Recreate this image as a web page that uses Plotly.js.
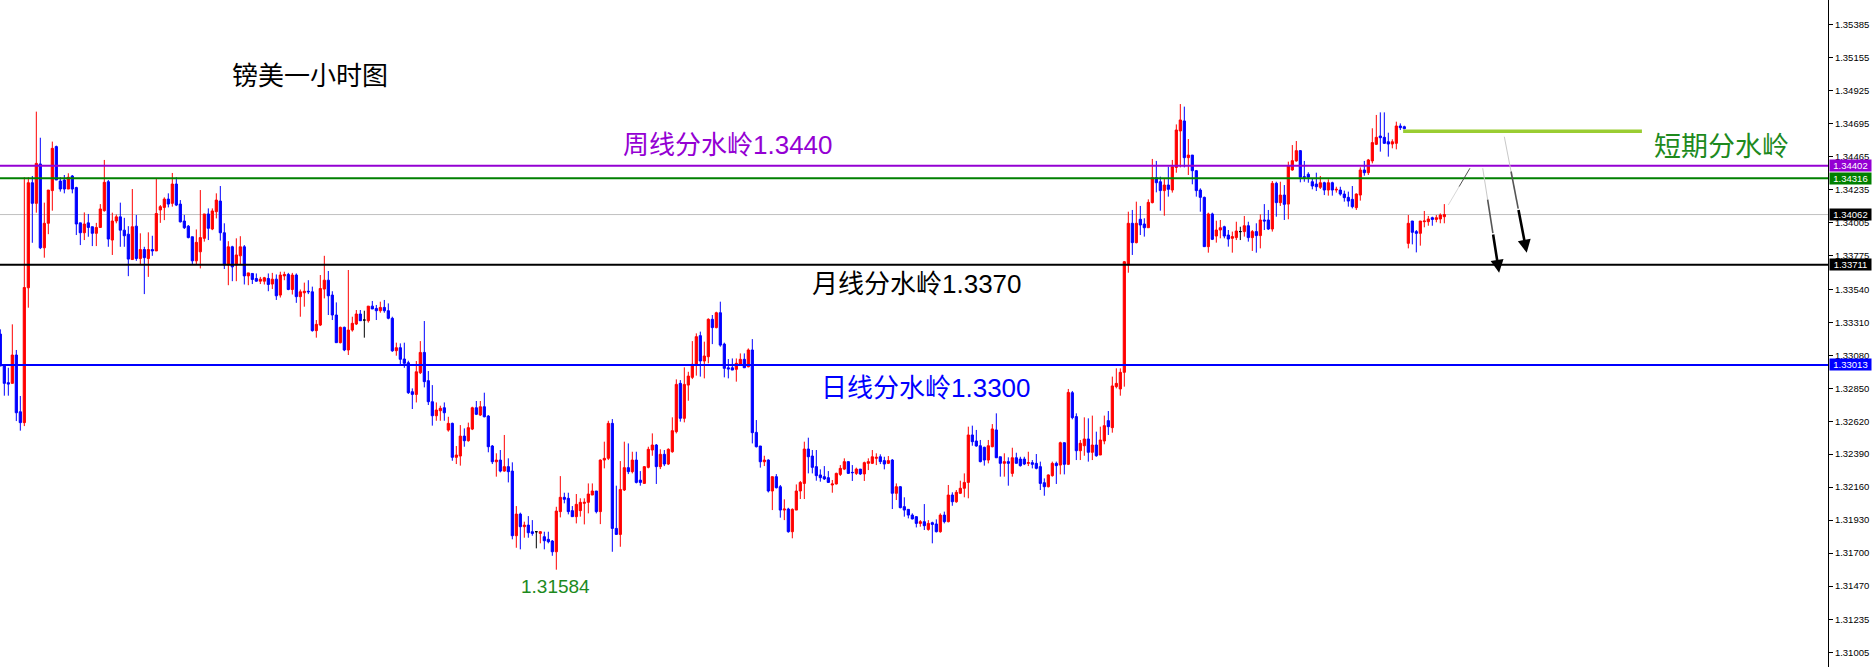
<!DOCTYPE html>
<html><head><meta charset="utf-8">
<script src="https://cdn.plot.ly/plotly-3.0.1.min.js"></script>
<style>html,body{margin:0;padding:0;background:#fff;overflow:hidden}#chart{width:1872px;height:667px}</style>
</head><body><div id="chart"></div>
<script>
// GBP/USD 1H candles, oldest first
const openP = [
1.33228,1.33005,1.32889,1.32884,1.33082,1.32686,1.32610,1.33551,1.34284,1.34140,
1.34415,1.33830,1.34001,1.34229,1.34536,1.34296,1.34303,1.34240,1.34331,1.34250,
1.34004,1.33935,1.34004,1.33977,1.33931,1.33972,1.34089,1.34291,1.33884,1.34017,
1.34046,1.33953,1.33925,1.33748,1.33981,1.33755,1.33818,1.33755,1.33818,1.33808,
1.34094,1.34112,1.34170,1.34140,1.34275,1.34135,1.34017,1.33981,1.33907,1.33739,
1.33802,1.33896,1.34066,1.33961,1.34082,1.34156,1.33935,1.33710,1.33837,1.33710,
1.33774,1.33837,1.33634,1.33651,1.33616,1.33597,1.33597,1.33616,1.33577,1.33611,
1.33500,1.33634,1.33644,1.33539,1.33640,1.33489,1.33516,1.33527,1.33523,1.33252,
1.33291,1.33542,1.33604,1.33500,1.33361,1.33168,1.33275,1.33117,1.33256,1.33298,
1.33368,1.33326,1.33321,1.33423,1.33407,1.33391,1.33414,1.33391,1.33338,1.33112,
1.33133,1.33054,1.33028,1.32826,1.32807,1.32958,1.33100,1.32903,1.32756,1.32658,
1.32693,1.32714,1.32558,1.32605,1.32368,1.32377,1.32516,1.32484,1.32565,1.32714,
1.32663,1.32721,1.32656,1.32447,1.32337,1.32349,1.32272,1.32303,1.32272,1.31821,
1.31972,1.31884,1.31895,1.31849,1.31849,1.31837,1.31814,1.31796,1.31784,1.31709,
1.31989,1.32089,1.32082,1.31996,1.31954,1.31996,1.32047,1.32054,1.32105,1.32133,
1.31989,1.32349,1.32361,1.32605,1.31872,1.31830,1.32140,1.32296,1.32268,1.32349,
1.32209,1.32186,1.32298,1.32419,1.32454,1.32303,1.32389,1.32321,1.32407,1.32547,
1.32884,1.32640,1.32872,1.32926,1.33012,1.33217,1.33040,1.33070,1.33331,1.33273,
1.33377,1.33158,1.32993,1.32993,1.32982,1.33019,1.33052,1.33000,1.33117,1.32542,
1.32447,1.32337,1.32349,1.32133,1.32233,1.32163,1.32000,1.32007,1.31849,1.32000,
1.32133,1.32186,1.32426,1.32377,1.32303,1.32245,1.32233,1.32226,1.32175,1.32182,
1.32249,1.32286,1.32338,1.32263,1.32256,1.32286,1.32252,1.32326,1.32326,1.32361,
1.32372,1.32345,1.32326,1.32349,1.32117,1.32163,1.32024,1.32005,1.31965,1.31954,
1.31907,1.31919,1.31865,1.31912,1.31903,1.31849,1.31965,1.31919,1.32105,1.32058,
1.32117,1.32152,1.32193,1.32524,1.32482,1.32449,1.32438,1.32349,1.32442,1.32559,
1.32372,1.32326,1.32338,1.32256,1.32365,1.32356,1.32356,1.32326,1.32331,1.32326,
1.32303,1.32191,1.32163,1.32240,1.32326,1.32314,1.32470,1.32319,1.32819,1.32652,
1.32414,1.32449,1.32496,1.32403,1.32454,1.32384,1.32482,1.32624,1.32575,1.32861,
1.32845,1.32961,1.33710,1.34001,1.33866,1.34029,1.33996,1.33970,1.34145,1.34319,
1.34291,1.34229,1.34268,1.34233,1.34391,1.34645,1.34715,1.34459,1.34477,1.34368,
1.34233,1.34182,1.33838,1.34066,1.33912,1.33954,1.33977,1.33919,1.33896,1.33901,
1.33943,1.33943,1.33984,1.33901,1.33943,1.33915,1.34024,1.34024,1.33961,1.34280,
1.34145,1.34198,1.34135,1.34373,1.34436,1.34508,1.34326,1.34343,1.34291,1.34275,
1.34252,1.34284,1.34233,1.34284,1.34233,1.34233,1.34205,1.34182,1.34168,1.34110,
1.34198,1.34373,1.34354,1.34436,1.34552,1.34610,1.34601,1.34570,1.34554,1.34559,
1.34680,1.34675,1.33861,1.34017,1.33943,1.33931,1.34012,1.34012,1.34040,1.34028,
1.34031,1.34047];
const highP = [
1.33261,1.33005,1.32993,1.33296,1.33117,1.32796,1.34322,1.34322,1.34331,1.34780,
1.34598,1.34145,1.34233,1.34571,1.34543,1.34322,1.34338,1.34350,1.34338,1.34256,
1.34004,1.34077,1.34066,1.33977,1.34004,1.34135,1.34443,1.34303,1.34075,1.34062,
1.34145,1.34039,1.33981,1.34240,1.34059,1.33931,1.33837,1.33938,1.33914,1.34315,
1.34128,1.34182,1.34210,1.34352,1.34322,1.34163,1.34059,1.33989,1.33907,1.33958,
1.34233,1.34066,1.34105,1.34105,1.34210,1.34261,1.34001,1.33876,1.33844,1.33896,
1.33911,1.33849,1.33655,1.33651,1.33651,1.33627,1.33627,1.33651,1.33655,1.33644,
1.33663,1.33663,1.33655,1.33655,1.33651,1.33539,1.33587,1.33604,1.33559,1.33326,
1.33640,1.33774,1.33668,1.33527,1.33449,1.33280,1.33280,1.33675,1.33349,1.33396,
1.33396,1.33391,1.33423,1.33459,1.33431,1.33454,1.33466,1.33442,1.33349,1.33168,
1.33163,1.33168,1.33042,1.32849,1.33040,1.33179,1.33319,1.32970,1.32872,1.32751,
1.32728,1.32751,1.32651,1.32610,1.32447,1.32593,1.32570,1.32610,1.32721,1.32761,
1.32761,1.32819,1.32663,1.32454,1.32396,1.32419,1.32524,1.32361,1.32333,1.32028,
1.31982,1.31919,1.31958,1.31930,1.31854,1.31854,1.31849,1.31849,1.31791,1.32023,
1.32237,1.32121,1.32121,1.32028,1.32112,1.32082,1.32082,1.32186,1.32186,1.32133,
1.32354,1.32477,1.32623,1.32635,1.32170,1.32342,1.32477,1.32465,1.32407,1.32407,
1.32272,1.32307,1.32442,1.32535,1.32461,1.32424,1.32419,1.32431,1.32647,1.32912,
1.32907,1.32996,1.32965,1.33179,1.33233,1.33245,1.33175,1.33338,1.33361,1.33384,
1.33454,1.33168,1.33054,1.33058,1.33058,1.33093,1.33093,1.33128,1.33193,1.32628,
1.32447,1.32379,1.32354,1.32233,1.32251,1.32175,1.32075,1.32016,1.32012,1.32179,
1.32203,1.32477,1.32505,1.32419,1.32419,1.32284,1.32307,1.32272,1.32210,1.32261,
1.32314,1.32361,1.32338,1.32314,1.32296,1.32286,1.32338,1.32361,1.32419,1.32396,
1.32389,1.32372,1.32377,1.32356,1.32186,1.32168,1.32089,1.32005,1.31977,1.31958,
1.31930,1.32042,1.31930,1.31919,1.31935,1.31977,1.31989,1.32175,1.32124,1.32140,
1.32205,1.32256,1.32582,1.32589,1.32559,1.32489,1.32442,1.32489,1.32600,1.32675,
1.32372,1.32396,1.32368,1.32435,1.32400,1.32372,1.32372,1.32407,1.32349,1.32391,
1.32338,1.32221,1.32249,1.32338,1.32338,1.32477,1.32472,1.32845,1.32831,1.32675,
1.32489,1.32647,1.32640,1.32659,1.32547,1.32582,1.32659,1.32691,1.32931,1.32989,
1.32989,1.33738,1.34082,1.34094,1.34152,1.34122,1.34036,1.34168,1.34450,1.34436,
1.34326,1.34315,1.34396,1.34443,1.34691,1.34833,1.34815,1.34589,1.34477,1.34373,
1.34245,1.34187,1.34075,1.34075,1.34019,1.34024,1.33984,1.33954,1.33943,1.34012,
1.33977,1.34052,1.34012,1.33954,1.34001,1.34063,1.34135,1.34094,1.34296,1.34291,
1.34291,1.34268,1.34431,1.34547,1.34575,1.34512,1.34436,1.34357,1.34315,1.34354,
1.34331,1.34291,1.34308,1.34291,1.34256,1.34256,1.34229,1.34222,1.34261,1.34210,
1.34391,1.34436,1.34450,1.34664,1.34757,1.34775,1.34775,1.34633,1.34587,1.34710,
1.34698,1.34682,1.34059,1.34017,1.33954,1.34017,1.34087,1.34052,1.34047,1.34059,
1.34070,1.34135];
const lowP = [
1.33005,1.32798,1.32798,1.32884,1.32621,1.32554,1.32586,1.33412,1.33865,1.34075,
1.33821,1.33761,1.33925,1.34089,1.34303,1.34222,1.34210,1.34240,1.34210,1.33919,
1.33849,1.33884,1.33907,1.33842,1.33842,1.33972,1.34082,1.33837,1.33780,1.34001,
1.33837,1.33837,1.33632,1.33745,1.33739,1.33716,1.33507,1.33627,1.33774,1.33808,
1.34004,1.34023,1.34112,1.34117,1.34121,1.34007,1.33961,1.33896,1.33716,1.33716,
1.33686,1.33873,1.33884,1.33953,1.34035,1.33880,1.33682,1.33569,1.33597,1.33597,
1.33710,1.33574,1.33569,1.33577,1.33594,1.33577,1.33574,1.33527,1.33542,1.33466,
1.33483,1.33604,1.33534,1.33504,1.33446,1.33349,1.33419,1.33507,1.33245,1.33203,
1.33284,1.33477,1.33361,1.33326,1.33168,1.33163,1.33109,1.33082,1.33245,1.33291,
1.33321,1.33203,1.33308,1.33403,1.33326,1.33377,1.33377,1.33331,1.33104,1.33077,
1.33019,1.32993,1.32810,1.32705,1.32751,1.32949,1.32856,1.32733,1.32589,1.32623,
1.32623,1.32623,1.32547,1.32344,1.32321,1.32310,1.32442,1.32477,1.32558,1.32663,
1.32656,1.32647,1.32403,1.32321,1.32233,1.32263,1.32268,1.32193,1.31796,1.31737,
1.31726,1.31807,1.31807,1.31821,1.31733,1.31768,1.31726,1.31768,1.31681,1.31584,
1.31949,1.32047,1.31970,1.31954,1.31907,1.31954,1.31900,1.31977,1.32105,1.31977,
1.31902,1.32291,1.32349,1.31709,1.31830,1.31744,1.32133,1.32251,1.32256,1.32186,
1.32170,1.32186,1.32291,1.32379,1.32182,1.32286,1.32307,1.32314,1.32400,1.32535,
1.32617,1.32612,1.32763,1.32914,1.32938,1.32931,1.32919,1.33024,1.33158,1.33268,
1.33140,1.32926,1.32919,1.32977,1.32896,1.33005,1.32993,1.32996,1.32465,1.32437,
1.32296,1.32307,1.32123,1.32000,1.32151,1.31947,1.31930,1.31842,1.31803,1.32000,
1.32077,1.32077,1.32256,1.32256,1.32205,1.32198,1.32210,1.32191,1.32121,1.32179,
1.32238,1.32279,1.32252,1.32203,1.32245,1.32245,1.32203,1.32279,1.32321,1.32314,
1.32321,1.32284,1.32321,1.32007,1.32070,1.32012,1.31954,1.31942,1.31935,1.31879,
1.31884,1.31861,1.31856,1.31768,1.31844,1.31842,1.31907,1.31914,1.32030,1.32051,
1.32112,1.32089,1.32082,1.32449,1.32442,1.32333,1.32310,1.32326,1.32438,1.32365,
1.32233,1.32233,1.32170,1.32233,1.32326,1.32303,1.32314,1.32307,1.32291,1.32284,
1.32140,1.32100,1.32158,1.32233,1.32182,1.32249,1.32249,1.32314,1.32633,1.32349,
1.32349,1.32379,1.32338,1.32349,1.32372,1.32384,1.32459,1.32524,1.32540,1.32849,
1.32798,1.32861,1.33656,1.33780,1.33861,1.33919,1.33908,1.33970,1.34140,1.34217,
1.34089,1.34054,1.34187,1.34215,1.34354,1.34391,1.34391,1.34338,1.34273,1.34187,
1.34082,1.33838,1.33796,1.33884,1.33866,1.33896,1.33896,1.33838,1.33796,1.33884,
1.33884,1.33908,1.33873,1.33808,1.33796,1.33826,1.33954,1.33954,1.33943,1.34047,
1.34122,1.34024,1.34029,1.34368,1.34431,1.34287,1.34291,1.34284,1.34238,1.34226,
1.34240,1.34198,1.34194,1.34194,1.34215,1.34194,1.34152,1.34117,1.34105,1.34094,
1.34159,1.34333,1.34338,1.34419,1.34547,1.34501,1.34554,1.34466,1.34524,1.34517,
1.34652,1.34657,1.33826,1.33854,1.33798,1.33845,1.33973,1.33984,1.33984,1.34008,
1.34001,1.34001];
const closeP = [
1.33005,1.32884,1.32879,1.33082,1.32679,1.32610,1.33553,1.34284,1.34140,1.34419,
1.33830,1.34001,1.34233,1.34524,1.34303,1.34240,1.34240,1.34322,1.34240,1.33996,
1.33935,1.33996,1.33972,1.33931,1.33972,1.34101,1.34287,1.33891,1.34017,1.34046,
1.33953,1.33914,1.33751,1.33977,1.33755,1.33818,1.33761,1.33818,1.33808,1.34069,
1.34117,1.34170,1.34135,1.34275,1.34128,1.34011,1.33970,1.33901,1.33739,1.33868,
1.33901,1.34066,1.33966,1.34087,1.34163,1.33935,1.33710,1.33837,1.33697,1.33780,
1.33837,1.33634,1.33655,1.33609,1.33597,1.33611,1.33621,1.33574,1.33611,1.33495,
1.33640,1.33644,1.33539,1.33640,1.33489,1.33523,1.33527,1.33523,1.33252,1.33296,
1.33546,1.33604,1.33495,1.33361,1.33168,1.33275,1.33117,1.33256,1.33303,1.33368,
1.33321,1.33326,1.33423,1.33403,1.33391,1.33414,1.33391,1.33338,1.33111,1.33133,
1.33052,1.33024,1.32819,1.32807,1.32965,1.33100,1.32896,1.32756,1.32658,1.32698,
1.32710,1.32679,1.32605,1.32368,1.32384,1.32516,1.32484,1.32575,1.32714,1.32668,
1.32721,1.32651,1.32442,1.32337,1.32349,1.32272,1.32303,1.32268,1.31821,1.31972,
1.31884,1.31895,1.31842,1.31837,1.31849,1.31849,1.31786,1.31779,1.31709,1.31993,
1.32089,1.32075,1.31989,1.31954,1.32040,1.32054,1.32054,1.32112,1.32133,1.31989,
1.32349,1.32361,1.32605,1.31872,1.31830,1.32144,1.32296,1.32268,1.32349,1.32193,
1.32193,1.32303,1.32424,1.32454,1.32303,1.32389,1.32321,1.32424,1.32554,1.32877,
1.32640,1.32877,1.32935,1.33017,1.33210,1.33040,1.33075,1.33331,1.33273,1.33377,
1.33151,1.32989,1.32984,1.32977,1.33024,1.33052,1.32993,1.33117,1.32540,1.32442,
1.32337,1.32349,1.32133,1.32233,1.32156,1.32000,1.32007,1.31849,1.32005,1.32133,
1.32193,1.32426,1.32372,1.32298,1.32240,1.32226,1.32217,1.32193,1.32182,1.32256,
1.32291,1.32338,1.32256,1.32261,1.32286,1.32252,1.32331,1.32338,1.32372,1.32368,
1.32338,1.32321,1.32345,1.32117,1.32163,1.32017,1.32000,1.31965,1.31938,1.31907,
1.31919,1.31891,1.31907,1.31900,1.31849,1.31965,1.31919,1.32105,1.32058,1.32124,
1.32152,1.32193,1.32524,1.32477,1.32447,1.32338,1.32349,1.32449,1.32566,1.32365,
1.32326,1.32338,1.32326,1.32365,1.32326,1.32310,1.32321,1.32331,1.32319,1.32291,
1.32186,1.32163,1.32245,1.32326,1.32310,1.32470,1.32319,1.32821,1.32645,1.32414,
1.32466,1.32496,1.32403,1.32454,1.32379,1.32489,1.32589,1.32582,1.32866,1.32884,
1.32961,1.33733,1.34001,1.33866,1.34001,1.33989,1.33970,1.34147,1.34319,1.34284,
1.34229,1.34268,1.34238,1.34396,1.34652,1.34722,1.34459,1.34477,1.34368,1.34229,
1.34182,1.33838,1.34066,1.33889,1.33954,1.33970,1.33912,1.33891,1.33908,1.33947,
1.33943,1.33984,1.33901,1.33943,1.33915,1.34024,1.34017,1.33961,1.34280,1.34145,
1.34198,1.34133,1.34401,1.34438,1.34508,1.34322,1.34322,1.34322,1.34261,1.34256,
1.34284,1.34233,1.34284,1.34233,1.34238,1.34205,1.34180,1.34156,1.34117,1.34205,
1.34373,1.34354,1.34443,1.34564,1.34601,1.34598,1.34559,1.34554,1.34570,1.34680,
1.34668,1.34661,1.34001,1.33938,1.33931,1.34017,1.34017,1.34031,1.34028,1.34040,
1.34059,1.34062];

// right-hand price scale
const tickValues = [1.35385,1.35155,1.34925,1.34695,1.34465,1.34235,1.34005,1.33775,1.33540,1.33310,
  1.33080,1.32850,1.32620,1.32390,1.32160,1.31930,1.31700,1.31470,1.31235,1.31005];
const tickLabels = ['1.35385','1.35155','1.34925','1.34695','1.34465','1.34235','1.34005','1.33775','1.33540','1.33310',
  '1.33080','1.32850','1.32620','1.32390','1.32160','1.31930','1.31700','1.31470','1.31235','1.31005'];

// horizontal levels (weekly, level2, current price, monthly, daily)
const levelPrices = [1.34402, 1.34316, 1.34062, 1.33711, 1.33013];
const levelLabels = ['1.34402', '1.34316', '1.34062', '1.33711', '1.33013'];
const shortTermLevel = 1.34643;
const shortTermFrom = 350.7, shortTermTo = 410.4;

// chart texts
const textLabels = ['镑美一小时图', '周线分水岭1.3440', '短期分水岭', '月线分水岭1.3370', '日线分水岭1.3300', '1.31584'];
const textX = [77.5, 181.9, 430.4, 229.2, 231.4, 138.9];
const textY = [1.35032, 1.34547, 1.34533, 1.33577, 1.32852, 1.31470];

// hand-drawn projection lines
const guideStart = [362.0, 1.34129], guideEnd = [367.4, 1.34385];
const arrowStarts = [[370.6, 1.34385], [376.0, 1.34605]];
const arrowEnds = [[374.7, 1.33656], [381.6, 1.33796]];

// ---------- build ----------
const xIdx = openP.map((_, i) => i);
function pick(cond) {
  const ids = xIdx.filter(i => cond(openP[i], closeP[i]));
  return { x: ids, open: ids.map(i => openP[i]), high: ids.map(i => highP[i]),
           low: ids.map(i => lowP[i]), close: ids.map(i => closeP[i]) };
}
function candle(d, col) {
  return Object.assign({
    type: 'candlestick', hoverinfo: 'skip', whiskerwidth: 0, showlegend: false,
    increasing: { line: { color: col, width: 1 }, fillcolor: col },
    decreasing: { line: { color: col, width: 1 }, fillcolor: col }
  }, d);
}
const traces = [
  candle(pick((o, c) => c > o), '#ff0000'),
  candle(pick((o, c) => c < o), '#0000ff'),
  candle(pick((o, c) => c === o), '#000000')
];

const levelColors = ['#9400d3', '#008000', '#c0c0c0', '#000000', '#0000ff'];
const levelWidths = [2, 2, 1, 2, 2];
const shapes = levelPrices.map((p, i) => ({
  type: 'line', xref: 'paper', x0: 0, x1: 1, yref: 'y', y0: p, y1: p,
  line: { color: levelColors[i], width: levelWidths[i] }, layer: i === 2 ? 'below' : 'above'
}));
shapes.push({ type: 'line', xref: 'x', yref: 'y', x0: shortTermFrom, x1: shortTermTo,
  y0: shortTermLevel, y1: shortTermLevel, line: { color: '#9acd32', width: 3.5 } });

function lerp(a, b, t) { return [a[0] + (b[0] - a[0]) * t, a[1] + (b[1] - a[1]) * t]; }
function seg(a, b, col, w) {
  return { type: 'line', xref: 'x', yref: 'y', x0: a[0], y0: a[1], x1: b[0], y1: b[1], line: { color: col, width: w } };
}
const gMid = lerp(guideStart, guideEnd, 0.5);
shapes.push(seg(guideStart, gMid, '#d8d8d8', 1));
shapes.push(seg(gMid, guideEnd, '#505050', 1));

const annotations = [];
arrowStarts.forEach((s, i) => {
  const e = arrowEnds[i];
  const p1 = lerp(s, e, 0.3), p2 = lerp(s, e, 0.62);
  shapes.push(seg(s, p1, '#c8c8c8', 1));
  shapes.push(seg(p1, p2, '#555555', 1.6));
  annotations.push({ x: e[0], y: e[1], xref: 'x', yref: 'y', ax: p2[0], ay: p2[1], axref: 'x', ayref: 'y',
    text: '', showarrow: true, arrowhead: 2, arrowsize: 1, arrowwidth: 2.6, arrowcolor: '#000', standoff: 0 });
});

const cjk = 'Liberation Sans, "Noto Sans CJK SC", sans-serif';
const textColors = ['#000000', '#9400d3', '#1d8a1d', '#000000', '#0000ff', '#1d8a1d'];
const textSizes = [26, 26, 27, 26, 26, 19];
textLabels.forEach((t, i) => {
  annotations.push({ x: textX[i], y: textY[i], xref: 'x', yref: 'y', text: t, showarrow: false,
    xanchor: 'center', yanchor: 'middle', font: { family: cjk, size: textSizes[i], color: textColors[i] } });
});

const boxColors = ['#9400d3', '#008000', '#000000', '#000000', '#0000ff'];
levelPrices.forEach((p, i) => {
  annotations.push({ xref: 'paper', x: 1, xanchor: 'left', xshift: 1, yref: 'y', y: p, yanchor: 'middle',
    text: levelLabels[i], showarrow: false, bgcolor: boxColors[i], borderpad: 0, width: 41, height: 11,
    align: 'center', valign: 'middle',
    font: { family: 'Liberation Sans, Arial, sans-serif', size: 9.5, color: '#ffffff' } });
});

const layout = {
  width: 1872, height: 667, margin: { l: 0, r: 44, t: 0, b: 0 },
  paper_bgcolor: '#ffffff', plot_bgcolor: '#ffffff', showlegend: false, hovermode: false, dragmode: false,
  boxgap: 0.45, boxgroupgap: 0,
  xaxis: { range: [-0.08, 456.92], visible: false, rangeslider: { visible: false }, fixedrange: true,
           showgrid: false, zeroline: false },
  yaxis: { side: 'right', range: [1.30905, 1.35559], tickmode: 'array', tickvals: tickValues, ticktext: tickLabels,
           ticks: 'outside', ticklen: 4, tickwidth: 1, tickcolor: '#000', showline: true, linecolor: '#000', linewidth: 1,
           showgrid: false, zeroline: false, fixedrange: true,
           tickfont: { family: 'Liberation Sans, Arial, sans-serif', size: 9.5, color: '#000' } },
  shapes: shapes, annotations: annotations
};
Plotly.newPlot('chart', traces, layout, { staticPlot: true, displayModeBar: false });
</script>
</body></html>
